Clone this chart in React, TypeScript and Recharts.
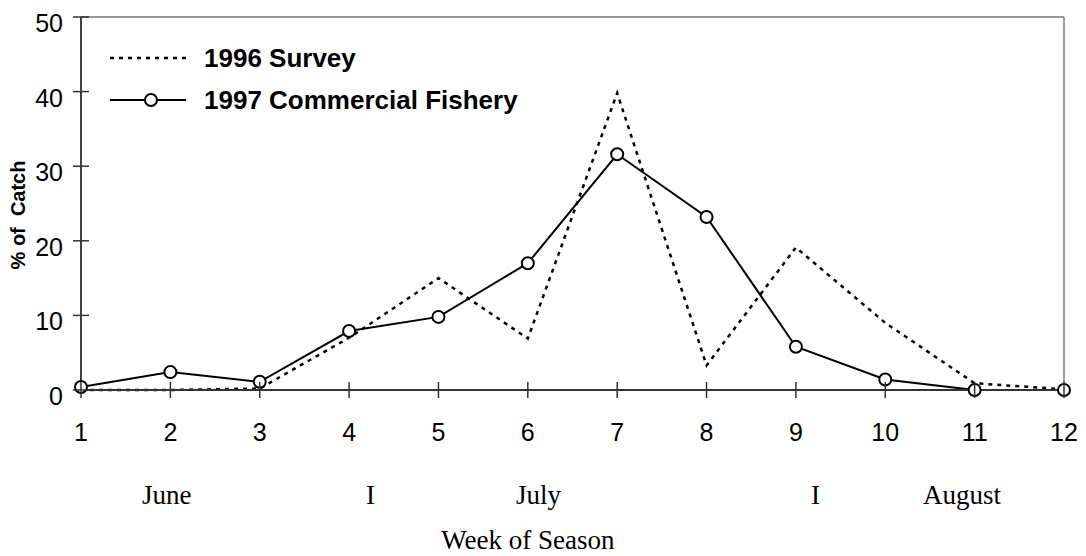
import React from 'react';
import { LineChart, Line, XAxis, YAxis, Legend, ReferenceLine } from 'recharts';

const weeks = [1, 2, 3, 4, 5, 6, 7, 8, 9, 10, 11, 12];
const survey1996 = [0, 0, 0.2, 7.0, 15.0, 6.9, 39.8, 3.3, 19.1, 9.0, 0.9, 0.1];
const fishery1997 = [0.4, 2.4, 1.1, 7.9, 9.8, 17.0, 31.6, 23.2, 5.8, 1.4, 0.0, 0.0];
const yTicks = [0, 10, 20, 30, 40, 50];
const monthLabels = ['June', 'I', 'July', 'I', 'August'];
const monthTicks = [1.96, 4.24, 6.12, 9.22, 10.86];
const seriesNames = ['1996 Survey', '1997 Commercial Fishery'];
const xTitle = 'Week of Season';
const yTitle = '% of  Catch';

const data = weeks.map((w, i) => ({ week: w, survey: survey1996[i], fishery: fishery1997[i] }));

const SANS = '"Liberation Sans", Arial, sans-serif';
const SERIF = '"Liberation Serif", "Times New Roman", serif';

const XTick = (props: any) => {
  const { x, y, payload } = props;
  return (
    <g>
      <line x1={x} x2={x} y1={y - 8} y2={y + 8} stroke="#333" strokeWidth={1.5} />
      <text x={x} y={y + 42} textAnchor="middle" dominantBaseline="central" fontFamily={SANS} fontSize={25} fill="#000">
        {payload.value}
      </text>
    </g>
  );
};

const YTick = (props: any) => {
  const { x, y, payload } = props;
  return (
    <g>
      <line x1={x - 8} x2={x + 8} y1={y} y2={y} stroke="#333" strokeWidth={1.5} />
      <text x={x - 18} y={y + 6} textAnchor="end" dominantBaseline="central" fontFamily={SANS} fontSize={25} fill="#000">
        {payload.value}
      </text>
    </g>
  );
};

const MonthLabels = (props: any) => {
  const vb = props.viewBox || {};
  const { x = 81, y = 390, width = 983 } = vb;
  const toX = (w: number) => x + ((w - 1) / 11) * width;
  return (
    <g>
      {monthLabels.map((m, i) => (
        <text key={i} x={toX(monthTicks[i])} y={y + 105} textAnchor="middle" dominantBaseline="central" fontFamily={SERIF} fontSize={27} fill="#000">
          {m}
        </text>
      ))}
      <text x={toX(6.0)} y={y + 150} textAnchor="middle" dominantBaseline="central" fontFamily={SERIF} fontSize={27} fill="#000">
        {xTitle}
      </text>
    </g>
  );
};

const YTitle = () => (
  <text
    x={18}
    y={215}
    transform="rotate(-90 18 215)"
    textAnchor="middle"
    dominantBaseline="central"
    fontFamily={SANS}
    fontWeight="bold"
    fontSize={20}
    fill="#000"
    style={{ whiteSpace: 'pre' }}
  >
    {yTitle}
  </text>
);

const LegendBox = () => (
  <svg width={580} height={130} style={{ display: 'block' }}>
    <line x1={110} x2={186} y1={58} y2={58} stroke="#000" strokeWidth={2.5} strokeDasharray="4 5" />
    <text x={204} y={58} dominantBaseline="central" fontFamily={SANS} fontWeight="bold" fontSize={26} fill="#000">
      {seriesNames[0]}
    </text>
    <line x1={110} x2={186} y1={100} y2={100} stroke="#000" strokeWidth={2} />
    <circle cx={151} cy={100} r={6} fill="#fff" stroke="#000" strokeWidth={2} />
    <text x={204} y={100} dominantBaseline="central" fontFamily={SANS} fontWeight="bold" fontSize={26} fill="#000">
      {seriesNames[1]}
    </text>
  </svg>
);

export default function App() {
  return (
    <div style={{ position: 'absolute', left: 0, top: 0, width: 1086, height: 556, background: '#fff' }}>
      <LineChart width={1086} height={556} data={data} margin={{ top: 17, right: 22, bottom: 0, left: 0 }}>
        <XAxis
          dataKey="week"
          type="number"
          domain={[1, 12]}
          ticks={weeks}
          interval={0}
          height={166}
          tickSize={0}
          tickMargin={0}
          tickLine={false}
          axisLine={{ stroke: '#333', strokeWidth: 2 }}
          tick={<XTick />}
          label={{ content: <MonthLabels /> }}
        />
        <YAxis
          type="number"
          domain={[0, 50]}
          ticks={yTicks}
          interval={0}
          width={81}
          tickSize={0}
          tickMargin={0}
          tickLine={false}
          axisLine={{ stroke: '#000', strokeWidth: 1.5 }}
          tick={<YTick />}
          label={{ content: <YTitle /> }}
        />
        <ReferenceLine y={50} stroke="#999" strokeWidth={2} />
        <ReferenceLine x={12} stroke="#999" strokeWidth={2} />
        <Legend
          layout="horizontal"
          verticalAlign="middle"
          align="center"
          wrapperStyle={{ left: 0, top: 0, width: 580, height: 130 }}
          content={() => <LegendBox />}
        />
        <Line
          dataKey="survey"
          name={seriesNames[0]}
          type="linear"
          stroke="#000"
          strokeWidth={2.5}
          strokeDasharray="4 5"
          dot={false}
          activeDot={false}
          isAnimationActive={false}
        />
        <Line
          dataKey="fishery"
          name={seriesNames[1]}
          type="linear"
          stroke="#000"
          strokeWidth={2}
          dot={{ r: 6, fill: '#fff', stroke: '#000', strokeWidth: 2 }}
          activeDot={false}
          isAnimationActive={false}
        />
      </LineChart>
    </div>
  );
}
